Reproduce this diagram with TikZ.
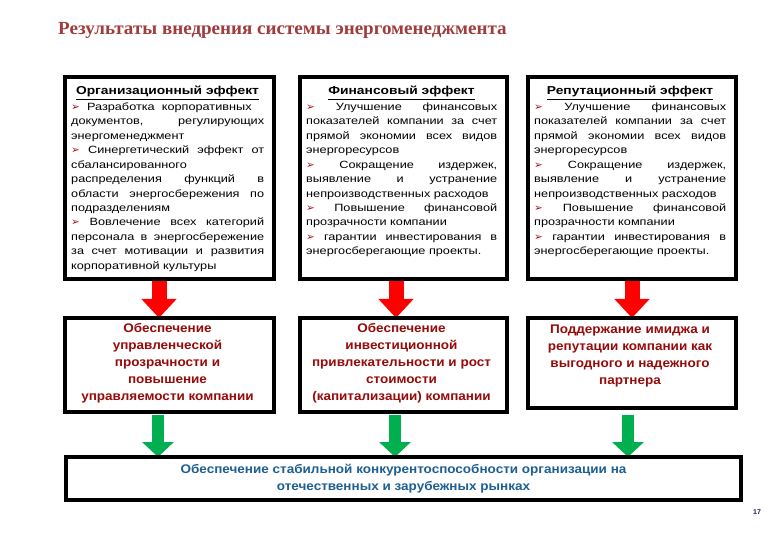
\documentclass[tikz,border=0pt]{standalone}
\usepackage{fontspec}
\setmainfont{Liberation Sans}
\newfontfamily\bodyfont[FakeStretch=1.21]{Liberation Sans}
\newfontfamily\headfont[FakeStretch=1.2]{Liberation Sans}
\newfontfamily\midfont[FakeStretch=1.08]{Liberation Sans}
\newfontfamily\ttlfont[FakeStretch=1.03]{Liberation Serif}
\newfontfamily\arrowfont{DejaVu Sans}
\usetikzlibrary{arrows.meta}
\definecolor{ttlred}{RGB}{160,60,60}
\definecolor{midred}{RGB}{150,10,10}
\definecolor{mkred}{RGB}{170,20,20}
\definecolor{blu}{RGB}{30,95,145}
\definecolor{arrred}{RGB}{255,0,0}
\definecolor{arrgreen}{RGB}{0,176,80}
\definecolor{pgnum}{RGB}{30,30,90}
\newcommand{\mk}{{\color{mkred}\arrowfont\fontsize{10.5}{10}\selectfont ➢}}
\newcommand{\bodyset}{\tolerance=10000\hbadness=10000\hyphenpenalty=10000\parindent=0pt\strut}
\begin{document}
\begin{tikzpicture}[x=1pt,y=-1pt,
  box/.style={draw=black, line width=4pt, fill=white, inner sep=0pt, anchor=north west},
  ttl/.style={font=\headfont\bfseries\fontsize{11.5}{13}\selectfont, anchor=base, inner sep=0pt},
  body/.style={anchor=north west, inner sep=0pt, text width=#1, align=justify,
    font=\bodyfont\fontsize{10.5}{14.45}\selectfont},
  midtxt/.style={font=\midfont\bfseries\fontsize{12.5}{17}\selectfont, text=midred, align=center, inner sep=0pt},
  redarr/.style={draw=arrred, line width=15pt, -{Triangle[length=19pt,width=34pt]}},
  grnarr/.style={draw=arrgreen, line width=12pt, -{Triangle[length=15pt,width=31pt]}}
]
\useasboundingbox[fill=white] (0,0) rectangle (780,540);

% title
\node[anchor=base west, inner sep=0pt, text=ttlred, font=\ttlfont\bfseries\fontsize{18.5}{20}\selectfont] (title) at (58,35) {Результаты внедрения системы энергоменеджмента};

% arrow x positions
\coordinate (ra1) at (159,0);
\coordinate (ra2) at (396,0);
\coordinate (ra3) at (632,0);
\coordinate (ga1) at (158,0);
\coordinate (ga2) at (395,0);
\coordinate (ga3) at (628,0);

% box frames (invisible placeholders, drawn later)
\path
 node[box, draw=none, fill=none, minimum width=205pt, minimum height=198pt] (t1) at (65,77) {}
 node[box, draw=none, fill=none, minimum width=203pt, minimum height=198pt] (t2) at (300,77) {}
 node[box, draw=none, fill=none, minimum width=204pt, minimum height=198pt] (t3) at (528,77) {}
 node[box, draw=none, fill=none, minimum width=205pt, minimum height=90pt] (m1) at (65,318) {}
 node[box, draw=none, fill=none, minimum width=203pt, minimum height=90pt] (m2) at (300,318) {}
 node[box, draw=none, fill=none, minimum width=204pt, minimum height=86pt] (m3) at (528,318) {}
 node[box, draw=none, fill=none, minimum width=671pt, minimum height=39pt] (bt) at (66,457) {};

% arrows
\draw[redarr] (t1.south -| ra1) -- (m1.north -| ra1);
\draw[redarr] (t2.south -| ra2) -- (m2.north -| ra2);
\draw[redarr] (t3.south -| ra3) -- (m3.north -| ra3);
\draw[grnarr] (m1.south -| ga1) ++(0,3) -- (bt.north -| ga1);
\draw[grnarr] (m2.south -| ga2) ++(0,3) -- (bt.north -| ga2);
\draw[grnarr] (m3.south -| ga3) ++(0,7) -- (bt.north -| ga3);

% visible boxes
\foreach \n in {t1,t2,t3,m1,m2,m3,bt}{
  \draw[line width=4pt] (\n.north west) rectangle (\n.south east);
}

% top titles
\node[ttl] (h1) at (167.5,95) {\underline{Организационный эффект}};
\node[ttl] (h2) at (401.5,95) {\underline{Финансовый эффект}};
\node[ttl] (h3) at (630,95) {\underline{Репутационный эффект}};

% top bodies
\node[body=193pt] (b1) at (71,100) {\bodyset
\mk~~Разработка\ \ корпоративных\newline
документов, регулирующих\linebreak
энергоменеджмент\par
\mk{} Синергетический эффект от\linebreak
сбалансированного\newline
распределения функций в\linebreak
области энергосбережения по\linebreak
подразделениям\par
\mk{} Вовлечение всех категорий\linebreak
персонала в энергосбережение\linebreak
за счет мотивации и развития\linebreak
корпоративной культуры};

\node[body=191pt] (b2) at (306,100) {\bodyset
\mk{} Улучшение финансовых\linebreak
показателей компании за счет\linebreak
прямой экономии всех видов\linebreak
энергоресурсов\par
\mk{} Сокращение издержек,\linebreak
выявление и устранение\linebreak
непроизводственных расходов\par
\mk{} Повышение финансовой\linebreak
прозрачности компании\par
\mk{} гарантии инвестирования в\linebreak
энергосберегающие проекты.};

\node[body=192pt] (b3) at (534,100) {\bodyset
\mk{} Улучшение финансовых\linebreak
показателей компании за счет\linebreak
прямой экономии всех видов\linebreak
энергоресурсов\par
\mk{} Сокращение издержек,\linebreak
выявление и устранение\linebreak
непроизводственных расходов\par
\mk{} Повышение финансовой\linebreak
прозрачности компании\par
\mk{} гарантии инвестирования в\linebreak
энергосберегающие проекты.};

% middle texts
\node[midtxt] (x1) at (167.5,363) {Обеспечение\\управленческой\\прозрачности и\\повышение\\управляемости компании};
\node[midtxt] (x2) at (401.5,363) {Обеспечение\\инвестиционной\\привлекательности и рост\\стоимости\\(капитализации) компании};
\node[midtxt] (x3) at (630,355.5) {Поддержание имиджа и\\репутации компании как\\выгодного и надежного\\партнера};

% bottom text
\node[midtxt, text=blu] (x4) at (bt.center) {Обеспечение стабильной конкурентоспособности организации на\\отечественных и зарубежных рынках};

% page number
\node[inner sep=0pt, text=pgnum, font=\bfseries\fontsize{7}{8}\selectfont] (pg) at (757,512) {17};
\end{tikzpicture}
\end{document}
